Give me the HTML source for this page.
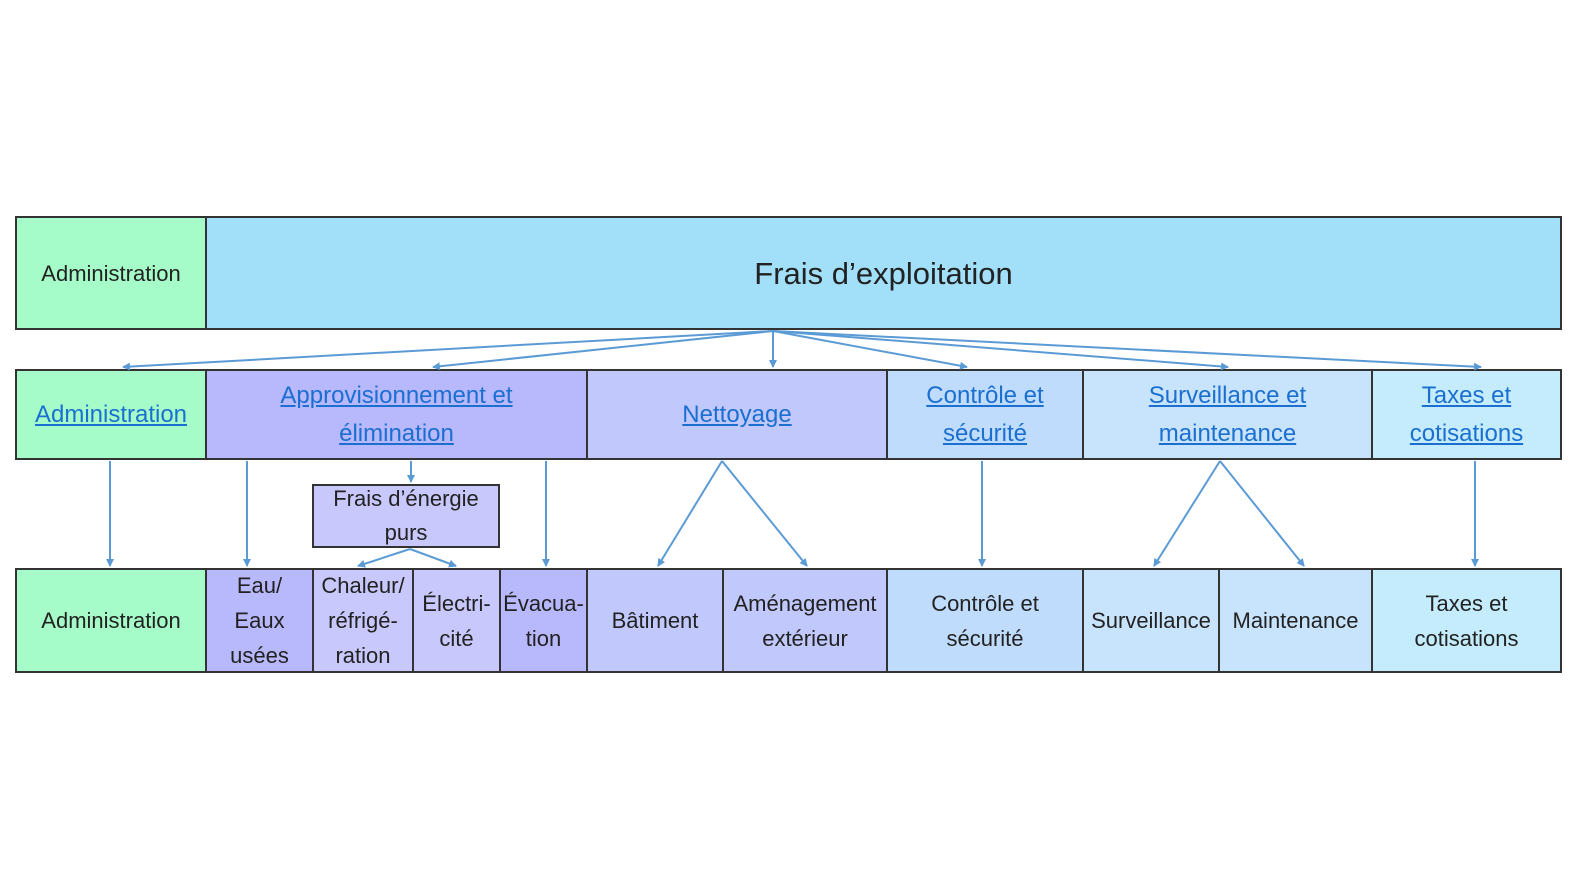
<!DOCTYPE html>
<html><head><meta charset="utf-8"><style>
body{margin:0;width:1584px;height:892px;background:#fff;position:relative;overflow:hidden;font-family:"Liberation Sans Narrow","Liberation Sans",sans-serif;color:#222}
.b{position:absolute;box-sizing:border-box;border:2px solid #333;display:flex;align-items:center;justify-content:center;text-align:center;font-size:22px;line-height:35px}
.l{color:#1a6fd0;text-decoration:underline;font-size:24px;line-height:38px}
svg{position:absolute;left:0;top:0}
</style></head><body>
<div class="b" style="left:15px;top:216px;width:192px;height:114px;background:#a6fcc8">Administration</div>
<div class="b" style="left:205px;top:216px;width:1357px;height:114px;background:#a2e0fa;font-size:31px">Frais d’exploitation</div>

<div class="b" style="left:15px;top:369px;width:192px;height:91px;background:#a6fcc8"><span class="l">Administration</span></div>
<div class="b" style="left:205px;top:369px;width:383px;height:91px;background:#b8b8fc"><span class="l">Approvisionnement et<br>élimination</span></div>
<div class="b" style="left:586px;top:369px;width:302px;height:91px;background:#c0c8fc"><span class="l">Nettoyage</span></div>
<div class="b" style="left:886px;top:369px;width:198px;height:91px;background:#c0dcfc"><span class="l">Contrôle et<br>sécurité</span></div>
<div class="b" style="left:1082px;top:369px;width:291px;height:91px;background:#c8e4fc"><span class="l">Surveillance et<br>maintenance</span></div>
<div class="b" style="left:1371px;top:369px;width:191px;height:91px;background:#c4ecfc"><span class="l">Taxes et<br>cotisations</span></div>

<div class="b" style="left:312px;top:484px;width:188px;height:64px;background:#c8c8fc;line-height:34px">Frais d’énergie<br>purs</div>

<div class="b" style="left:15px;top:568px;width:192px;height:105px;background:#a6fcc8">Administration</div>
<div class="b" style="left:205px;top:568px;width:109px;height:105px;background:#b8b8fc">Eau/<br>Eaux<br>usées</div>
<div class="b" style="left:312px;top:568px;width:102px;height:105px;background:#c8c8fc">Chaleur/<br>réfrigé-<br>ration</div>
<div class="b" style="left:412px;top:568px;width:89px;height:105px;background:#c8c8fc">Électri-<br>cité</div>
<div class="b" style="left:499px;top:568px;width:89px;height:105px;background:#b8b8fc">Évacua-<br>tion</div>
<div class="b" style="left:586px;top:568px;width:138px;height:105px;background:#c0c8fc">Bâtiment</div>
<div class="b" style="left:722px;top:568px;width:166px;height:105px;background:#c0c8fc">Aménagement<br>extérieur</div>
<div class="b" style="left:886px;top:568px;width:198px;height:105px;background:#c0dcfc">Contrôle et<br>sécurité</div>
<div class="b" style="left:1082px;top:568px;width:138px;height:105px;background:#c8e4fc">Surveillance</div>
<div class="b" style="left:1218px;top:568px;width:155px;height:105px;background:#c8e4fc">Maintenance</div>
<div class="b" style="left:1371px;top:568px;width:191px;height:105px;background:#c4ecfc">Taxes et<br>cotisations</div>

<svg width="1584" height="892">
<defs><marker id="a" markerWidth="8" markerHeight="8" refX="7" refY="4" orient="auto" markerUnits="userSpaceOnUse"><path d="M0,0L8,4L0,8z" fill="#5b9bd5"/></marker></defs>
<g stroke="#5b9bd5" stroke-width="2" fill="none" marker-end="url(#a)">
<line x1="773" y1="331" x2="123" y2="367"/>
<line x1="773" y1="331" x2="433" y2="367"/>
<line x1="773" y1="331" x2="773" y2="367"/>
<line x1="773" y1="331" x2="967" y2="367"/>
<line x1="773" y1="331" x2="1228" y2="367"/>
<line x1="773" y1="331" x2="1481" y2="367"/>
<line x1="110" y1="461" x2="110" y2="566"/>
<line x1="247" y1="461" x2="247" y2="566"/>
<line x1="411" y1="461" x2="411" y2="482"/>
<line x1="546" y1="461" x2="546" y2="566"/>
<line x1="722" y1="461" x2="658" y2="566"/>
<line x1="722" y1="461" x2="807" y2="566"/>
<line x1="982" y1="461" x2="982" y2="566"/>
<line x1="1220" y1="461" x2="1154" y2="566"/>
<line x1="1220" y1="461" x2="1304" y2="566"/>
<line x1="1475" y1="461" x2="1475" y2="566"/>
<line x1="410" y1="549" x2="358" y2="566"/>
<line x1="410" y1="549" x2="456" y2="566"/>
</g></svg>
</body></html>
